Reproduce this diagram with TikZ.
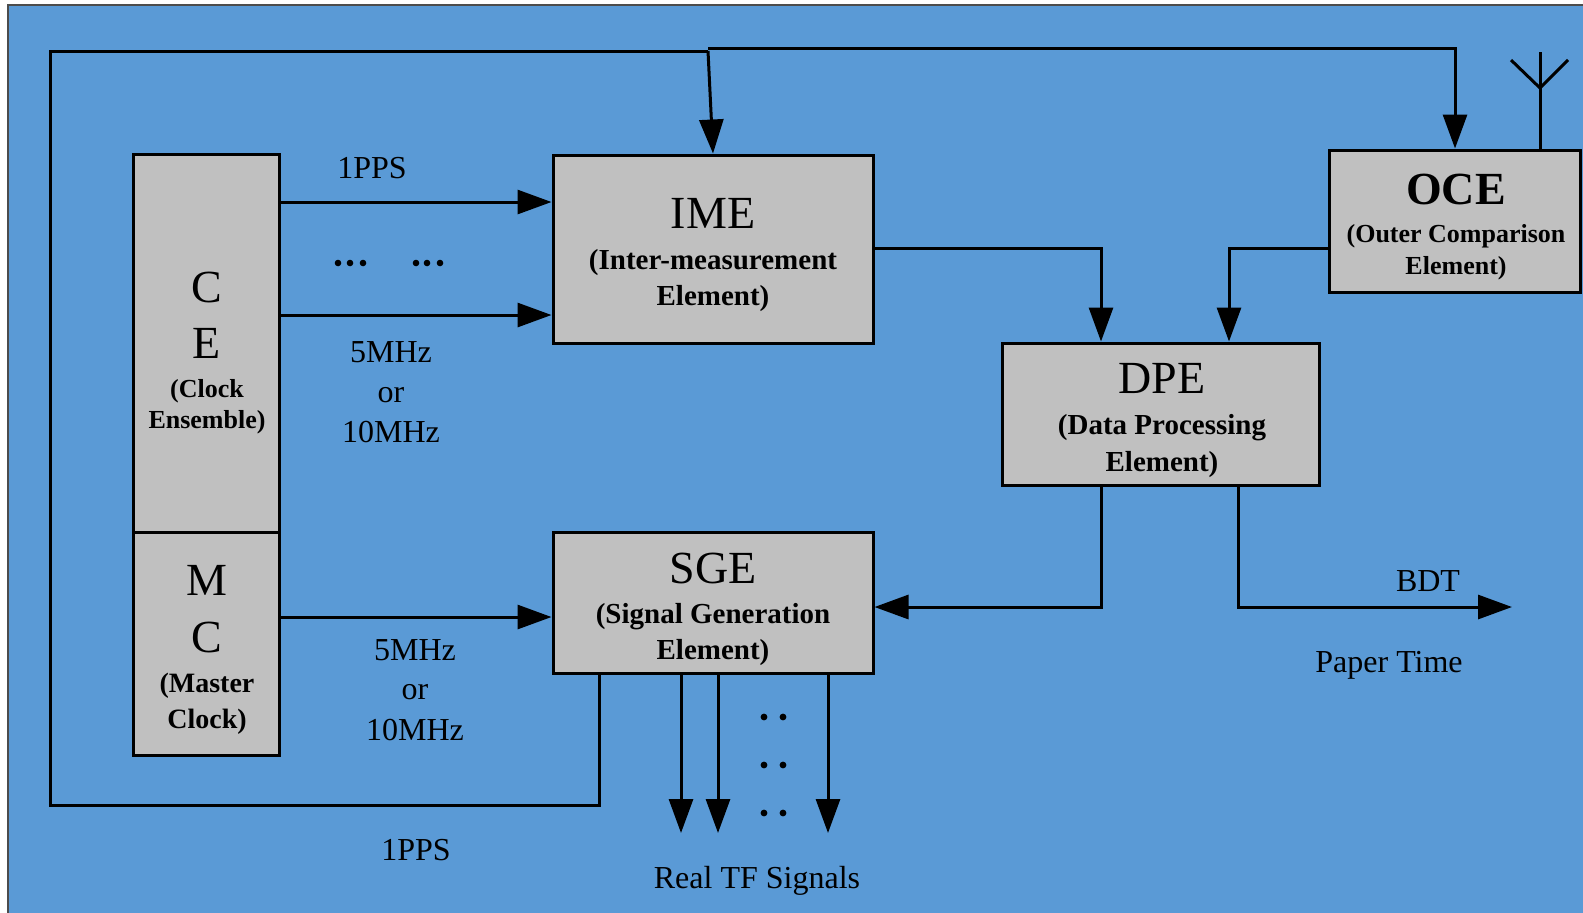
\documentclass[tikz,border=0pt]{standalone}
\usepackage{fontspec}
\setmainfont{Liberation Serif}
\usetikzlibrary{arrows.meta,calc}
\definecolor{bg}{HTML}{5A9AD6}
\definecolor{boxgray}{HTML}{C0C0C0}
\begin{document}
\begin{tikzpicture}[x=0.5pt,y=-0.5pt,
  box/.style={draw=black, line width=1.5pt, fill=boxgray, inner sep=0pt},
  conn/.style={line width=1.5pt},
  arr/.style={conn, -{Triangle[length=17pt,width=12pt]}},
  big/.style={font=\fontsize{23}{27}\selectfont, inner sep=0pt, anchor=base},
  bigb/.style={font=\fontsize{23}{27}\selectfont\bfseries, inner sep=0pt, anchor=base},
  sub/.style={font=\fontsize{13}{15}\selectfont\bfseries, inner sep=0pt, anchor=base},
  subw/.style={font=\fontsize{14.5}{17}\selectfont\bfseries, inner sep=0pt, anchor=base},
  subm/.style={font=\fontsize{14}{16}\selectfont\bfseries, inner sep=0pt, anchor=base},
  lbl/.style={font=\fontsize{16}{19}\selectfont, inner sep=0pt, anchor=base},
  dotm/.style={fill=black}]
\useasboundingbox (0,0) rectangle (1583,912);
\fill[white] (0,0) rectangle (1583,912);
\draw[fill=bg, draw=black!70, line width=0.8pt] (8,5) rectangle (1600,930);

% boxes
\node[box, minimum width=73pt, minimum height=189pt] (CE) at (206,343) {};
\node[box, minimum width=73pt, minimum height=111.5pt] (MC) at (206,643.5) {};
\node[box, minimum width=160pt, minimum height=94pt] (IME) at (713,249) {};
\node[box, minimum width=125.5pt, minimum height=71pt] (OCE) at (1454.5,221) {};
\node[box, minimum width=158.5pt, minimum height=71pt] (DPE) at (1160.5,414) {};
\node[box, minimum width=160pt, minimum height=70.5pt] (SGE) at (713,602.5) {};

% box texts
\node[big] (ceC) at (207,302) {C};
\node[big] (ceE) at (207,358) {E};
\node[sub] (ceS1) at (207,397) {(Clock};
\node[sub] (ceS2) at (207,428) {Ensemble)};
\node[big] (mcM) at (207,595) {M};
\node[big] (mcC) at (207,652) {C};
\node[subm] (mcS1) at (207,692) {(Master};
\node[subm] (mcS2) at (207,728) {Clock)};
\node[big] (imeT) at (713,228) {IME};
\node[subw] (imeS1) at (713,269) {(Inter-measurement};
\node[subw] (imeS2) at (713,305) {Element)};
\node[bigb] (oceT) at (1456,204) {OCE};
\node[sub] (oceS1) at (1456,242) {(Outer Comparison};
\node[sub] (oceS2) at (1456,274) {Element)};
\node[big] (dpeT) at (1162,393) {DPE};
\node[subw] (dpeS1) at (1162,434) {(Data Processing};
\node[subw] (dpeS2) at (1162,471) {Element)};
\node[big] (sgeT) at (713,583) {SGE};
\node[subw] (sgeS1) at (713,623) {(Signal Generation};
\node[subw] (sgeS2) at (713,659) {Element)};

% labels
\node[lbl] (l1pps) at (372,178) {1PPS};
\node[lbl] (lf1a) at (391,362) {5MHz};
\node[lbl] (lf1b) at (391,402) {or};
\node[lbl] (lf1c) at (391,442) {10MHz};
\node[lbl] (lf2a) at (415,660) {5MHz};
\node[lbl] (lf2b) at (415,699) {or};
\node[lbl] (lf2c) at (415,740) {10MHz};
\node[lbl] (l1pps2) at (416,860) {1PPS};
\node[lbl] (lreal) at (757,888) {Real TF Signals};
\node[lbl] (lbdt) at (1428,591) {BDT};
\node[lbl] (lpaper) at (1389,672) {Paper Time};

% dots
\foreach \x in {338,350,363,416,427,440} \fill[dotm] (\x,263) circle[radius=1.65pt];
\foreach \y in {717,765,813} {\fill[dotm] (764,\y) circle[radius=1.7pt]; \fill[dotm] (783,\y) circle[radius=1.7pt];}

% CE/MC -> IME/SGE
\coordinate (a1) at (300,202);
\coordinate (a2) at (300,315);
\coordinate (a3) at (300,617);
\draw[arr] (CE.east |- a1) -- (IME.west |- a1);
\draw[arr] (CE.east |- a2) -- (IME.west |- a2);
\draw[arr] (MC.east |- a3) -- (SGE.west |- a3);

% IME -> DPE, OCE -> DPE
\coordinate (b1) at (1101,248);
\coordinate (b2) at (1229,248);
\draw[arr] (IME.east |- b1) -- (b1) -- (b1 |- DPE.north);
\draw[arr] (OCE.west |- b2) -- (b2) -- (b2 |- DPE.north);

% DPE -> SGE, DPE -> BDT
\coordinate (c1) at (1101,607);
\coordinate (c2) at (1238,607);
\coordinate (c3) at (1512,607);
\draw[arr] (c1 |- DPE.south) -- (c1) -- (SGE.east |- c1);
\draw[arr] (c2 |- DPE.south) -- (c2) -- (c3);

% SGE loop -> IME and OCE
\coordinate (s1) at (599,805);
\coordinate (s2) at (50,805);
\coordinate (s3) at (50,51);
\coordinate (j) at (708,51);
\coordinate (jt) at (713,100);
\coordinate (j2) at (708,48);
\coordinate (o1) at (1455,48);
\draw[conn] (s1 |- SGE.south) -- (s1) -- (s2) -- (s3) -- (j);
\draw[arr] (j) -- (jt |- IME.north);
\draw[arr] (j2) -- (o1) -- (o1 |- OCE.north);

% SGE outputs
\foreach \x/\n in {681/r1,718/r2,828/r3} {
  \coordinate (\n) at (\x,833);
  \draw[arr] (\n |- SGE.south) -- (\n);
}

% antenna
\coordinate (antTop) at (1540,52);
\coordinate (antV) at (1540,88);
\coordinate (antL) at (1511,60);
\coordinate (antR) at (1568,60);
\draw[conn] (antTop |- OCE.north) -- (antTop);
\draw[conn] (antL) -- (antV) -- (antR);
\end{tikzpicture}
\end{document}
